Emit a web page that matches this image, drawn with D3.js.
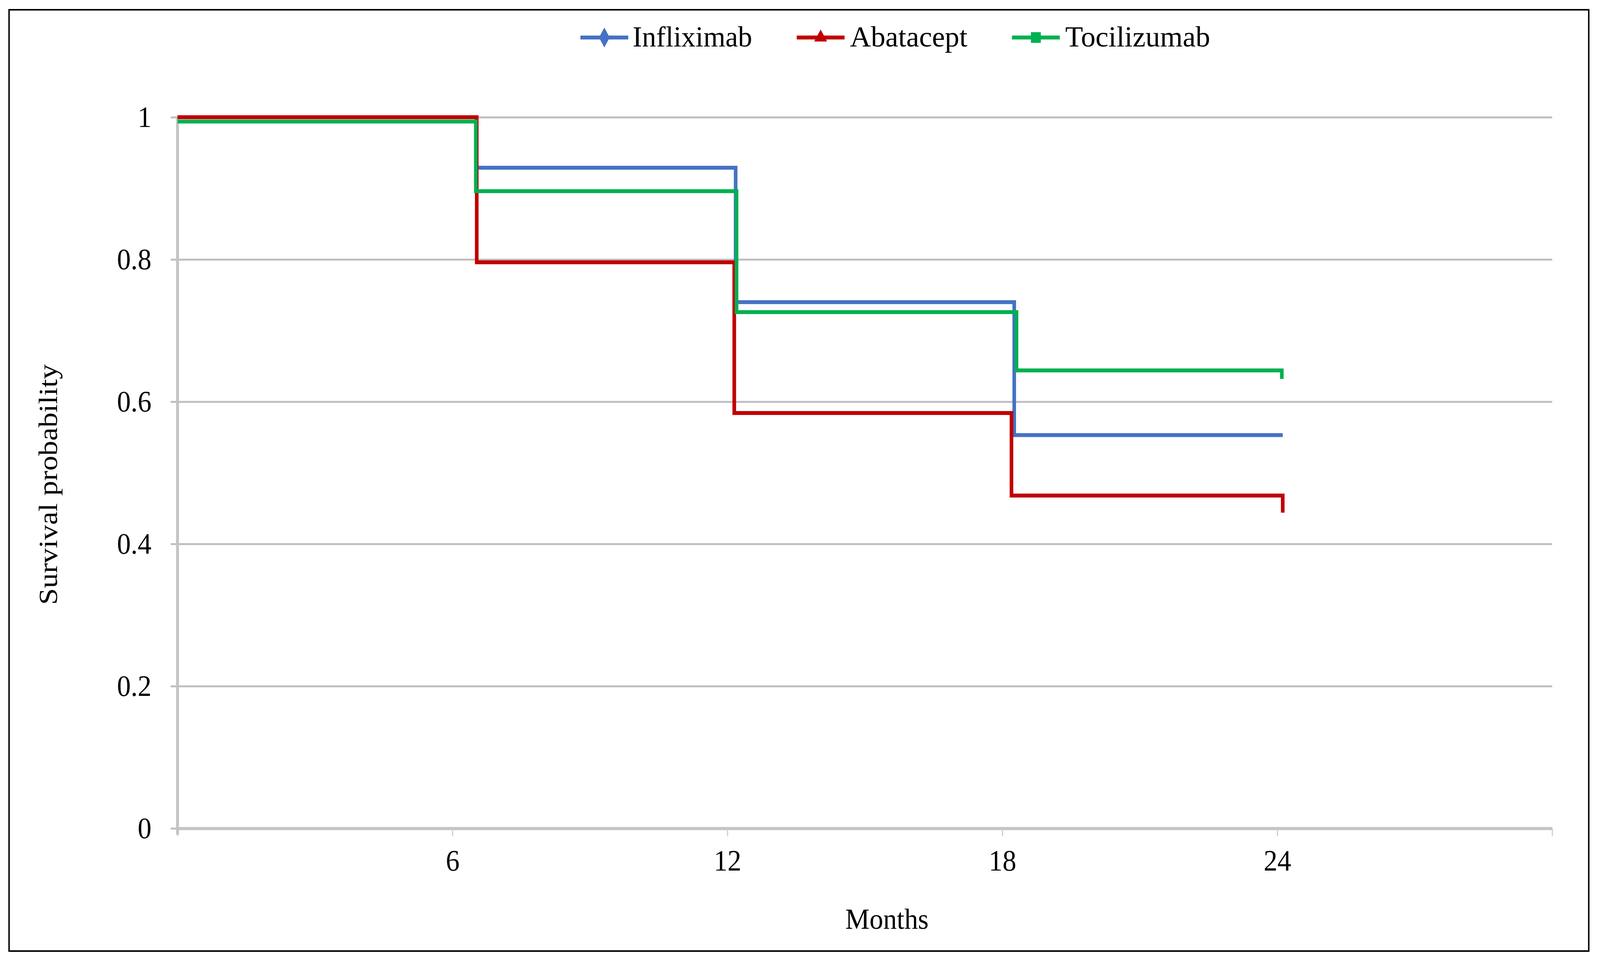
<!DOCTYPE html>
<html>
<head>
<meta charset="utf-8">
<script src="https://cdn.jsdelivr.net/npm/d3@7"></script>
<style>
  html, body { margin: 0; padding: 0; background: #fff; overflow: hidden; }
  svg { display: block; width: 100vw; height: 100vh; }
</style>
</head>
<body>
<svg viewBox="0 0 4416 2462" preserveAspectRatio="none" data-width="4416" data-height="2462"></svg>
<script>
// Datos (curvas Kaplan-Meier)
const seriesNames = ["Infliximab", "Abatacept", "Tocilizumab"];
const seriesColors = ["#4472C4", "#C00000", "#00B050"];
const seriesSymbols = [d3.symbolDiamond, d3.symbolTriangle, d3.symbolSquare];

const infliximabMonths = [0, 6.52, 12.18, 18.26, 24.12];
const infliximabSurv   = [1, 0.929, 0.74, 0.553, 0.553];

const abataceptMonths = [0, 6.53, 12.15, 18.2, 24.12, 24.12];
const abataceptSurv   = [1, 0.796, 0.584, 0.468, 0.468, 0.444];

const tocilizumabMonths = [0, 6.51, 12.2, 18.31, 24.1, 24.1];
const tocilizumabSurv   = [0.994, 0.896, 0.726, 0.644, 0.644, 0.632];

const xTicks = [0, 6, 12, 18, 24, 30];
const xTickLabels = ["", "6", "12", "18", "24", ""];
const yTicks = [0, 0.2, 0.4, 0.6, 0.8, 1];
const yTickLabels = ["0", "0.2", "0.4", "0.6", "0.8", "1"];

const svg = d3.select("svg"),
  width = +svg.attr("data-width"),
  height = +svg.attr("data-height");

const font = "'Liberation Serif', 'Times New Roman', serif";

// Marco
svg.append("rect")
  .attr("width", width).attr("height", height)
  .attr("fill", "#fff");
svg.append("rect")
  .attr("x", 25).attr("y", 25)
  .attr("width", 4360).attr("height", 2409)
  .attr("fill", "#fff")
  .attr("stroke", "#000")
  .attr("stroke-width", 4);

const plot = { left: 490, right: 4284, top: 300, bottom: 2120 };

const x = d3.scaleLinear().domain([0, 30]).range([plot.left, plot.right]);
const y = d3.scaleLinear().domain([0, 1]).range([plot.bottom, plot.top]);

// Rejilla + etiquetas eje Y
const yAxis = svg.append("g")
  .attr("transform", `translate(471, 0)`)
  .call(d3.axisLeft(y)
    .tickValues(yTicks)
    .tickFormat((d, i) => yTickLabels[i])
    .tickSize(-(plot.right - 471))
    .tickPadding(53));
yAxis.select(".domain").remove();
yAxis.selectAll(".tick line")
  .attr("stroke", "#bfbfbf")
  .attr("stroke-width", 5);
yAxis.selectAll(".tick text")
  .attr("fill", "#000")
  .style("font-family", font)
  .style("font-size", "76px");

// Eje X
const xAxis = svg.append("g")
  .attr("transform", `translate(0, ${plot.bottom})`)
  .call(d3.axisBottom(x)
    .tickValues(xTicks)
    .tickFormat((d, i) => xTickLabels[i])
    .tickSize(20)
    .tickSizeOuter(0)
    .tickPadding(34));
xAxis.select(".domain")
  .attr("stroke", "#c4c4c4")
  .attr("stroke-width", 8);
xAxis.selectAll(".tick line")
  .attr("stroke", "#cccccc")
  .attr("stroke-width", 3);
xAxis.selectAll(".tick text")
  .attr("fill", "#000")
  .style("font-family", font)
  .style("font-size", "76px");

// Línea del eje Y
svg.append("line")
  .attr("x1", plot.left).attr("x2", plot.left)
  .attr("y1", y(1)).attr("y2", y(0) + 16)
  .attr("stroke", "#c4c4c4")
  .attr("stroke-width", 8);

// Curvas escalonadas
const allSeries = [
  { months: infliximabMonths, surv: infliximabSurv },
  { months: abataceptMonths, surv: abataceptSurv },
  { months: tocilizumabMonths, surv: tocilizumabSurv }
];

const line = d3.line()
  .x(d => x(d[0]))
  .y(d => y(d[1]))
  .curve(d3.curveStepAfter);

allSeries.forEach((s, i) => {
  svg.append("path")
    .datum(s.months.map((m, j) => [m, s.surv[j]]))
    .attr("fill", "none")
    .attr("stroke", seriesColors[i])
    .attr("stroke-width", 10)
    .attr("stroke-linejoin", "miter")
    .attr("d", line);
});

// Títulos de ejes
svg.append("text")
  .attr("x", 2448).attr("y", 2377)
  .attr("text-anchor", "middle")
  .attr("textLength", 230)
  .attr("lengthAdjust", "spacingAndGlyphs")
  .style("font-family", font)
  .style("font-size", "74px")
  .text("Months");

svg.append("text")
  .attr("transform", "translate(157, 1240) rotate(-90)")
  .attr("text-anchor", "middle")
  .attr("textLength", 616)
  .attr("lengthAdjust", "spacingAndGlyphs")
  .style("font-family", font)
  .style("font-size", "72px")
  .text("Survival probability");

// Leyenda
const legendLineX = [1602, 2199, 2793];
const legendTextX = [1746, 2346, 2940];
const legendTextLen = [330, 324, 400];
const legendY = 96;

seriesNames.forEach((name, i) => {
  const g = svg.append("g");
  g.append("line")
    .attr("x1", legendLineX[i]).attr("x2", legendLineX[i] + 132)
    .attr("y1", legendY).attr("y2", legendY)
    .attr("stroke", seriesColors[i])
    .attr("stroke-width", 10);
  g.append("path")
    .attr("transform", `translate(${legendLineX[i] + 66}, ${legendY})`)
    .attr("d", d3.symbol().type(seriesSymbols[i]).size(i === 1 ? 550 : 750)())
    .attr("fill", seriesColors[i]);
  g.append("text")
    .attr("x", legendTextX[i]).attr("y", 119)
    .attr("textLength", legendTextLen[i])
    .attr("lengthAdjust", "spacingAndGlyphs")
    .style("font-family", font)
    .style("font-size", "74px")
    .text(name);
});
</script>
</body>
</html>
